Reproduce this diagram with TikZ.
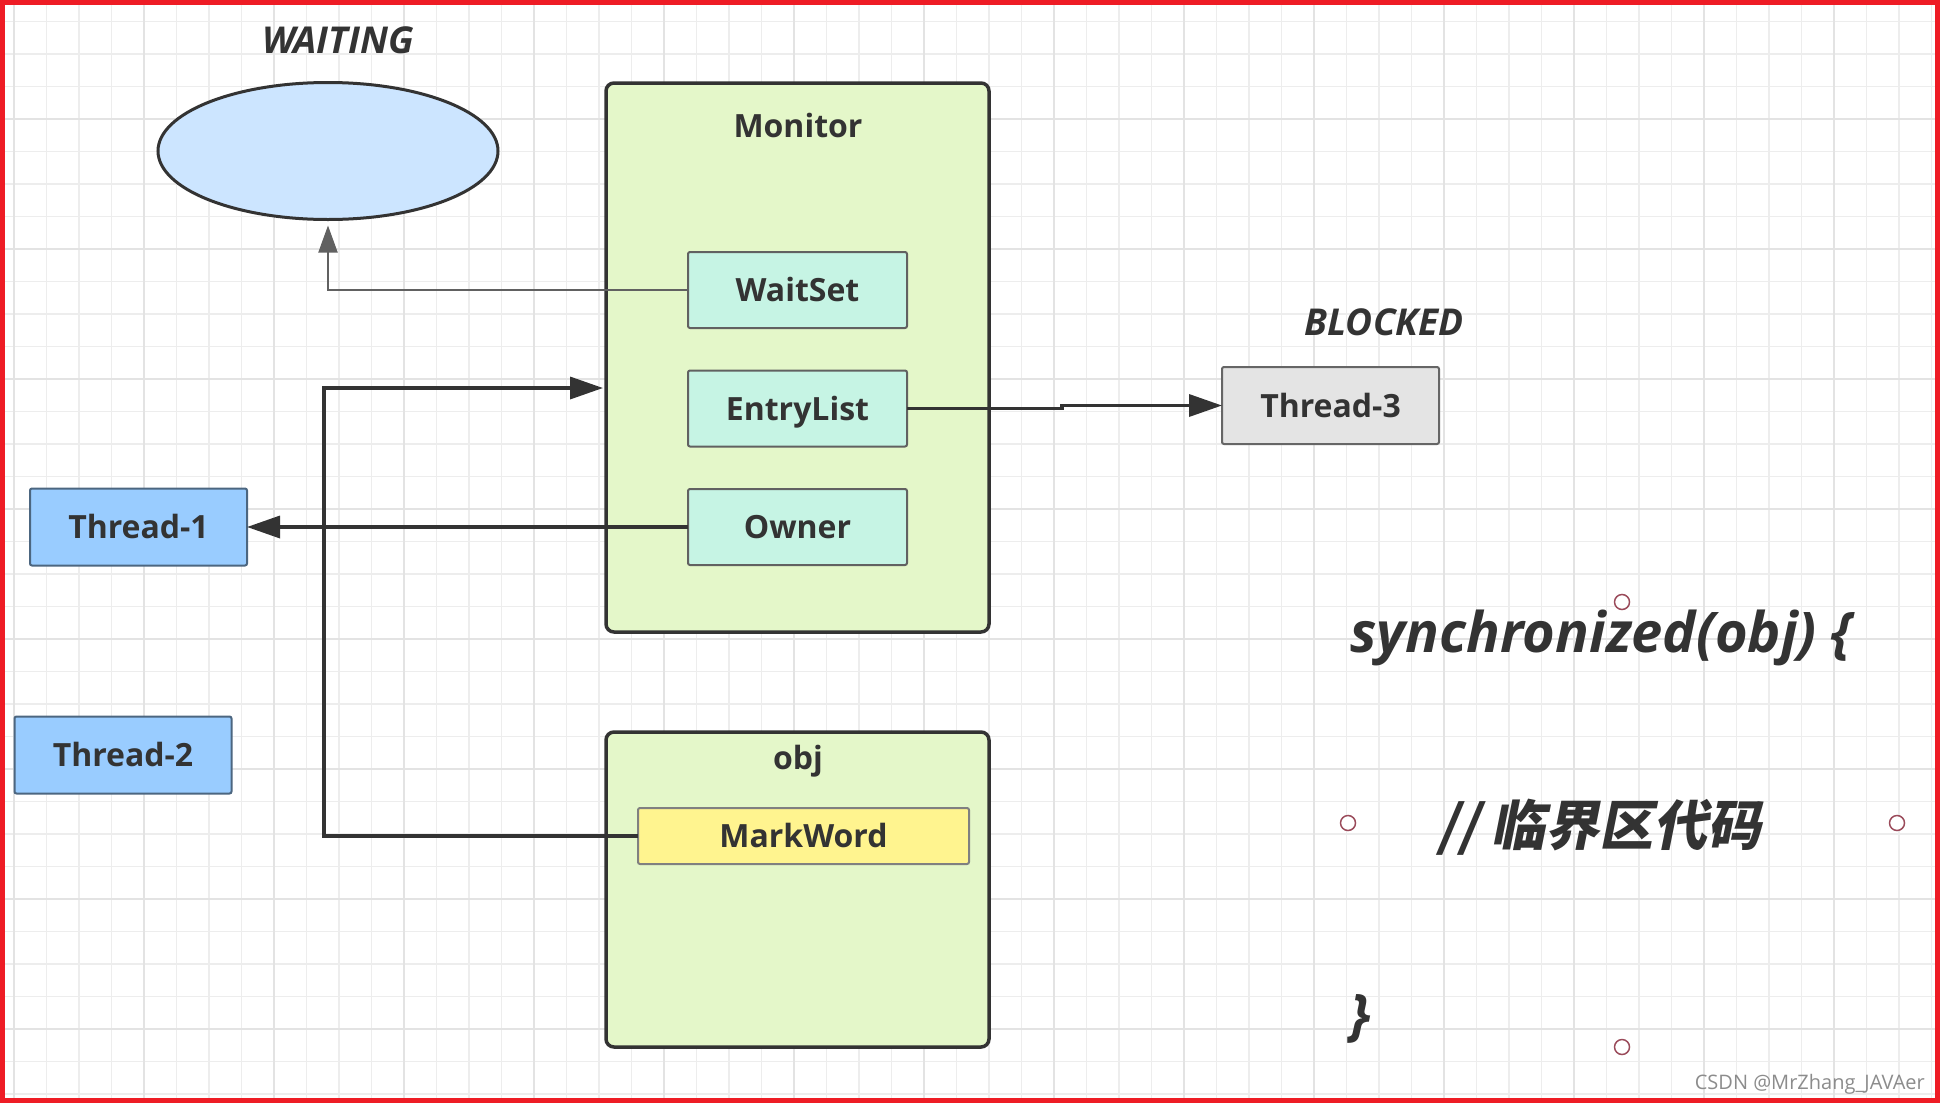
\documentclass[tikz,border=0pt]{standalone}
\usepackage{fontspec}
\setmainfont{Open Sans}
\newfontfamily\cjk{Noto Sans CJK SC}[FakeSlant=0.2]
\usetikzlibrary{arrows.meta,shapes.geometric}

\definecolor{inkgray}{HTML}{333333}
\definecolor{panelgreen}{HTML}{E4F7C9}
\definecolor{mint}{HTML}{C6F4E4}
\definecolor{skyblue}{HTML}{99CCFF}
\definecolor{slateline}{HTML}{4C6680}
\definecolor{poolblue}{HTML}{CCE5FF}
\definecolor{blockgray}{HTML}{E4E4E4}
\definecolor{markyellow}{HTML}{FFF48F}
\definecolor{framered}{HTML}{EE1C25}
\definecolor{handlered}{HTML}{9A4A5A}

\tikzset{
  gridminor/.style={draw=black!7, line width=1.3pt},
  gridmajor/.style={draw=black!11, line width=1.8pt},
  container/.style={rectangle, draw=inkgray, fill=panelgreen, line width=3.5pt,
    rounded corners=8pt, inner sep=0pt, outer sep=0pt},
  heading/.style={text=inkgray, font=\fontsize{32}{38}\selectfont\bfseries, inner sep=0pt},
  field/.style={rectangle, draw=black!62, fill=mint, line width=2pt, rounded corners=2pt,
    minimum width=219pt, minimum height=76pt, inner sep=0pt, outer sep=0pt,
    text=inkgray, font=\fontsize{32}{38}\selectfont\bfseries, text height=23pt, text depth=0pt},
  thread/.style={field, fill=skyblue, draw=slateline, minimum width=217pt, minimum height=77pt},
  markbox/.style={field, fill=markyellow, draw=black!50, minimum width=331pt, minimum height=56pt},
  pool/.style={ellipse, draw=inkgray, fill=poolblue, line width=3pt,
    minimum width=340pt, minimum height=137pt, inner sep=0pt, outer sep=0pt},
  state/.style={text=inkgray, font=\fontsize{37}{44}\selectfont\bfseries\itshape, inner sep=0pt},
  codeline/.style={text=inkgray, font=\fontsize{56}{66}\selectfont\bfseries\itshape, inner sep=0pt},
  link/.style={draw=inkgray, line width=3.5pt, -{Triangle[length=33pt,width=22pt]}},
  thinlink/.style={draw=black!62, line width=2pt, -{Triangle[length=27pt,width=19pt]}},
  handle/.style={draw=handlered, fill=white, line width=1.5pt}
}

\begin{document}
\begin{tikzpicture}[x=1pt, y=-1pt]
  \useasboundingbox (0,0) rectangle (1940,1103);
  \fill[white] (0,0) rectangle (1940,1103);

  % background grid
  \foreach \k in {0,...,59}
    \draw[gridminor] ({14+32.5*\k},0) -- ({14+32.5*\k},1103);
  \foreach \k in {1,...,34}
    \draw[gridminor] (0,{-11+32.5*\k}) -- (1940,{-11+32.5*\k});
  \foreach \k in {0,...,14}
    \draw[gridmajor] ({14+130*\k},0) -- ({14+130*\k},1103);
  \foreach \k in {1,...,8}
    \draw[gridmajor] (0,{-11+130*\k}) -- (1940,{-11+130*\k});

  % monitor
  \node[container, minimum width=383pt, minimum height=549pt] (monitor) at (797.5,357.5) {};
  \node[heading] (montitle) at (798,125) {Monitor};
  \node[field] (waitset) at (797.5,290) {WaitSet};
  \node[field] (entrylist) at (797.5,408.5) {EntryList};
  \node[field] (owner) at (797.5,527) {Owner};

  % obj
  \node[container, minimum width=383pt, minimum height=315pt] (obj) at (797.5,889.5) {};
  \node[heading] (objtitle) at (798,761) {obj};
  \node[markbox] (markword) at (803.5,836) {MarkWord};

  % threads
  \node[pool] (waitpool) at (328,151) {};
  \node[state] (waiting) at (338,40) {WAITING};
  \node[thread] (t1) at (138.5,527) {Thread-1};
  \node[thread] (t2) at (123,755) {Thread-2};
  \node[thread, fill=blockgray, draw=black!60] (t3) at (1330.5,405.5) {Thread-3};
  \node[state] (blocked) at (1384,322) {BLOCKED};

  \draw[thinlink] (waitset.west) -| ([yshift=-6pt]waitpool.south);
  \draw[link] (entrylist.east) -- ++(155,0) |- (t3.west);
  \draw[link] (owner.west) -- (t1.east);
  \coordinate (turn) at (324,388);
  \draw[link] (markword.west) -| (turn) -- ([xshift=-3pt]monitor.west |- turn);

  % code
  \node[codeline, anchor=base west] (sync) at (1350,652) {synchronized(obj) \{};
  \node[text=inkgray, inner sep=0pt, anchor=base west] (critical) at (1437,845)
    {\cjk\bfseries\fontsize{54}{62}\selectfont // 临界区代码};
  \node[codeline, anchor=base west] (close) at (1350,1034) {\}};
  \foreach \p in {(1622,602),(1348,823),(1897,823),(1622,1047)}
    \draw[handle] \p circle (7.5pt);

  \node[text=black!45, font=\fontsize{20}{24}\selectfont, inner sep=0pt, anchor=base east] (mark) at (1925,1089) {CSDN @MrZhang\_JAVAer};

  \draw[framered, line width=5pt] (2.5,2.5) rectangle (1937.5,1100.5);
\end{tikzpicture}
\end{document}
